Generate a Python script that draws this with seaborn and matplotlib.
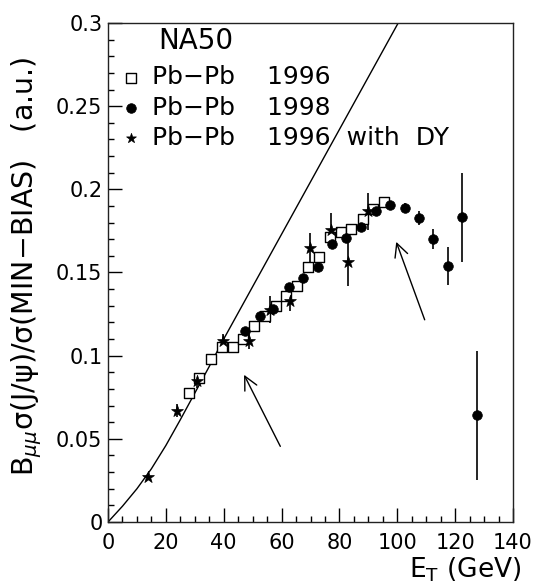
import matplotlib
matplotlib.use('Agg')
import matplotlib.pyplot as plt
import seaborn as sns
import numpy as np
import pandas as pd
from matplotlib.ticker import MultipleLocator, FuncFormatter

# Pb-Pb 1996 (open squares)
sq_et = [27.9, 31.6, 35.5, 39.4, 43.1, 46.7, 50.5, 54.3, 58.0, 61.7, 65.4,
         69.2, 72.9, 76.7, 80.5, 84.1, 88.0, 91.6, 95.4]
sq_val = [0.0775, 0.0866, 0.0977, 0.105, 0.105, 0.110, 0.118, 0.124, 0.130, 0.136, 0.142,
          0.1536, 0.1596, 0.1711, 0.1741, 0.1761, 0.1821, 0.1881, 0.1921]

# Pb-Pb 1998 (full circles)
circ_et = [47.4, 52.4, 57.2, 62.5, 67.4, 72.6, 77.3, 82.4, 87.4, 92.5, 97.5,
           102.7, 107.5, 112.5, 117.5, 122.5, 127.5]
circ_val = [0.115, 0.1236, 0.128, 0.141, 0.1466, 0.1536, 0.1673, 0.1707, 0.1771, 0.1867, 0.1907,
            0.189, 0.1827, 0.170, 0.154, 0.1831, 0.0642]
circ_err = [0.002, 0.002, 0.002, 0.002, 0.002, 0.002, 0.002, 0.002, 0.002, 0.002, 0.002,
            0.003, 0.0043, 0.006, 0.0115, 0.0265, 0.0387]

# Pb-Pb 1996 with DY (stars)
star_et = [13.7, 23.8, 30.9, 39.8, 48.9, 55.9, 62.9, 69.8, 77.0, 82.9, 90.0]
star_val = [0.0272, 0.0670, 0.0847, 0.1088, 0.1088, 0.1277, 0.1330, 0.1646, 0.1757, 0.1566, 0.1867]
star_err = [0.001, 0.004, 0.004, 0.0045, 0.005, 0.008, 0.006, 0.009, 0.010, 0.015, 0.011]

# normal absorption curve
curve_et = [0, 5, 10, 15, 20, 25, 30, 35, 40, 50, 60, 70, 80, 90, 100, 101]
curve_val = [0, 0.0095, 0.020, 0.032, 0.046, 0.0615, 0.0775, 0.0935, 0.110, 0.1415,
             0.173, 0.2045, 0.236, 0.2675, 0.299, 0.302]

# arrows: (tail, head)
arrows = [((60.0, 0.044), (46.6, 0.090)), ((109.8, 0.120), (99.3, 0.170))]

sns.set_style('ticks')
plt.rcParams['font.family'] = ['DejaVu Sans']
plt.rcParams['mathtext.fontset'] = 'dejavusans'
plt.rcParams['text.color'] = 'black'
plt.rcParams['xtick.color'] = 'black'
plt.rcParams['ytick.color'] = 'black'
plt.rcParams['axes.labelcolor'] = 'black'

fig = plt.figure(figsize=(5.4, 5.83), dpi=100)
ax = fig.add_axes([0.2, 0.1046, 0.75, 0.856])

sns.lineplot(x=curve_et, y=curve_val, sort=False, color='black', lw=1.0, ax=ax)

ax.errorbar(circ_et, circ_val, yerr=circ_err, fmt='none', ecolor='black', elinewidth=1.2, zorder=2)
ax.errorbar(star_et, star_val, yerr=star_err, fmt='none', ecolor='black', elinewidth=1.2, zorder=2)

sns.scatterplot(x=sq_et, y=sq_val, marker='s', color='white', edgecolor='black',
                linewidth=1.0, s=48, zorder=3, label='Pb\u2212Pb    1996', ax=ax)
sns.scatterplot(x=circ_et, y=circ_val, marker='o', color='black', edgecolor='black',
                linewidth=0.5, s=48, zorder=4, label='Pb\u2212Pb    1998', ax=ax)
sns.scatterplot(x=star_et, y=star_val, marker='*', color='black', edgecolor='black',
                linewidth=0.5, s=80, zorder=5, label='Pb\u2212Pb    1996  with  DY', ax=ax)

for tail, head in arrows:
    ax.annotate('', xy=head, xytext=tail,
                arrowprops=dict(arrowstyle='->,head_length=0.6,head_width=0.3',
                                lw=1.0, color='black', mutation_scale=16))

ax.set_xlim(0, 140)
ax.set_ylim(0, 0.3)
ax.xaxis.set_major_locator(MultipleLocator(20))
ax.xaxis.set_minor_locator(MultipleLocator(5))
ax.yaxis.set_major_locator(MultipleLocator(0.05))
ax.yaxis.set_minor_locator(MultipleLocator(0.01))
ax.yaxis.set_major_formatter(FuncFormatter(lambda v, p: '%g' % round(v, 3)))
ax.tick_params(which='both', direction='in', top=False, right=False, width=1.0,
               color='black', labelcolor='black')
ax.tick_params(which='major', length=10)
ax.tick_params(which='minor', length=4.5)
ax.tick_params(axis='x', labelsize=15, pad=8)
ax.tick_params(axis='y', labelsize=15, pad=4)
for sp in ax.spines.values():
    sp.set_linewidth(1.0)
    sp.set_color('#222222')
ax.set_xlabel('')
ax.set_ylabel('')

leg = ax.legend(loc='upper left', bbox_to_anchor=(0.027, 0.915), frameon=False, fontsize=18,
                handlelength=1.0, handletextpad=0.34, labelspacing=0.25, borderpad=0,
                borderaxespad=0, markerscale=1.0, labelcolor='black')
leg.legend_handles[2].set_sizes([55])
ax.text(0.123, 0.963, 'NA50', transform=ax.transAxes, fontsize=20, ha='left', va='center',
        color='black')

ax.text(-0.2, 0.512, 'B$_{\\mu\\mu}$\u03c3(J/\u03c8)/\u03c3(MIN\u2212BIAS)   (a.u.)',
        transform=ax.transAxes, rotation=90, fontsize=20.5, ha='center', va='center',
        color='black')
ax.text(1.021, -0.0956, 'E$_{\\mathrm{T}}$ (GeV)', transform=ax.transAxes, fontsize=19,
        ha='right', va='center', color='black')

plt.savefig('out.png', dpi=100)
